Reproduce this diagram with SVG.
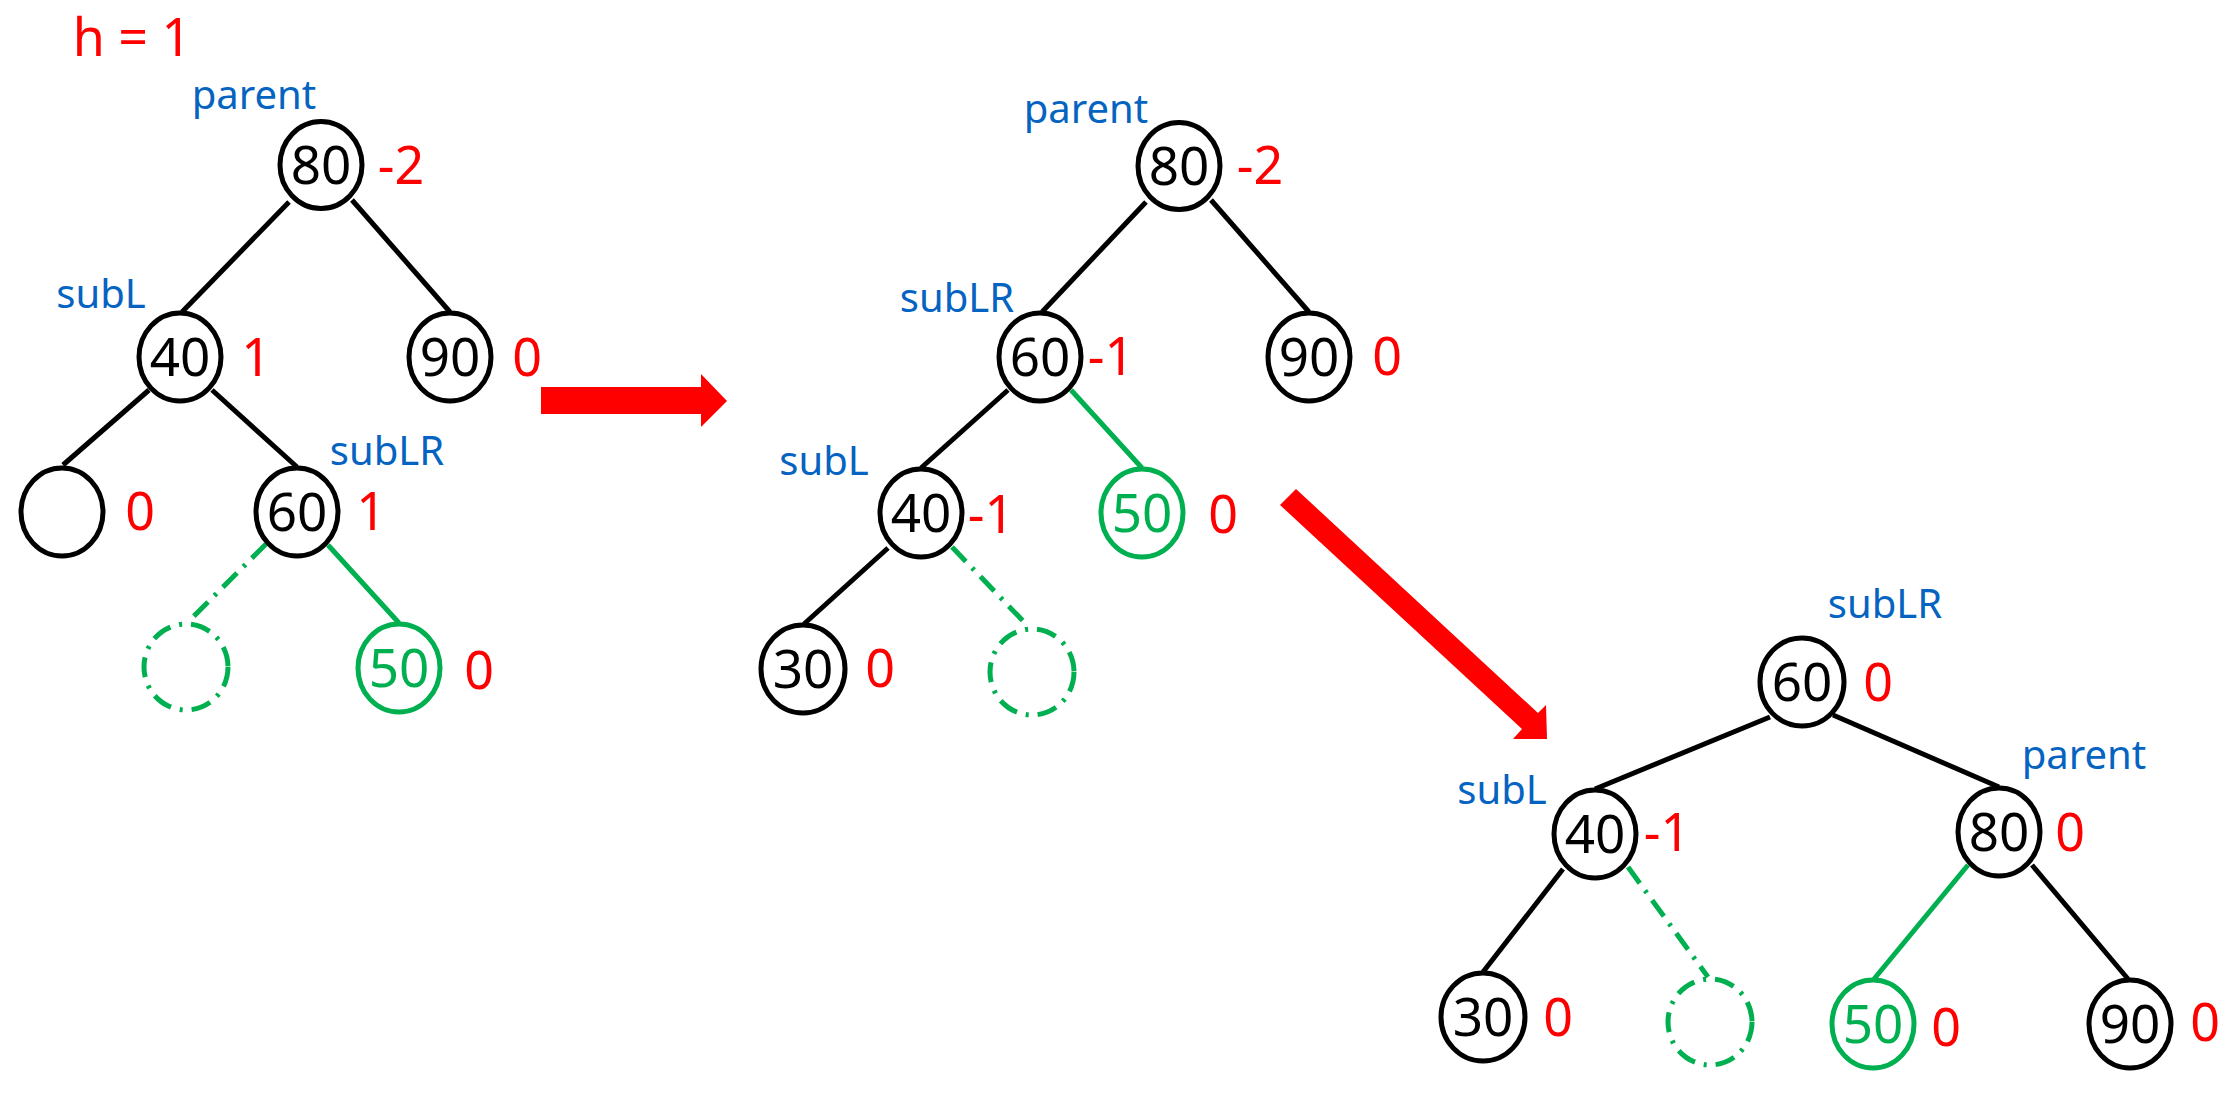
<svg xmlns="http://www.w3.org/2000/svg" width="2240" height="1104" viewBox="0 0 2240 1104">
<style>
text{font-family:"Noto Sans","DejaVu Sans",sans-serif}
.node{fill:#fff;stroke:#000;stroke-width:5}
.gnode{fill:#fff;stroke:#00B050;stroke-width:5}
.dnode{fill:none;stroke:#00B050;stroke-width:5;stroke-dasharray:20 9 3 9}
.val{font-size:53px;fill:#000;text-anchor:middle}
.gval{font-size:53px;fill:#00B050;text-anchor:middle}
.bal{font-size:52px;fill:#FF0000;text-anchor:middle}
.lab{font-size:40px;fill:#0563C1;text-anchor:middle}
.edge{stroke:#000;stroke-width:5;fill:none}
.gedge{stroke:#00B050;stroke-width:5;fill:none}
.dedge{stroke:#00B050;stroke-width:5;fill:none;stroke-dasharray:20 9 3 9}
.arrow{fill:#FF0000}
</style>
<rect width="2240" height="1104" fill="#fff"/>
<text x="132" y="56" font-size="52" fill="#FF0000" text-anchor="middle">h = 1</text>

<g id="connectors">
<line class="edge" x1="289" y1="202" x2="182" y2="312"/>
<line class="edge" x1="352" y1="200" x2="450" y2="312"/>
<line class="edge" x1="149" y1="390" x2="63" y2="465"/>
<line class="edge" x1="212" y1="390" x2="297" y2="467"/>
<line class="dedge" x1="266" y1="544" x2="188" y2="622"/>
<line class="gedge" x1="328" y1="545" x2="399" y2="623"/>

<line class="edge" x1="1146" y1="202" x2="1042" y2="312"/>
<line class="edge" x1="1211" y1="200" x2="1309" y2="312"/>
<line class="edge" x1="1008" y1="390" x2="921" y2="468"/>
<line class="gedge" x1="1071" y1="390" x2="1142" y2="468"/>
<line class="edge" x1="888" y1="548" x2="804" y2="624"/>
<line class="dedge" x1="952" y1="547" x2="1024" y2="622"/>

<line class="edge" x1="1770" y1="717" x2="1595" y2="789"/>
<line class="edge" x1="1833" y1="715" x2="1999" y2="787"/>
<line class="edge" x1="1563" y1="869" x2="1483" y2="972"/>
<line class="dedge" x1="1628" y1="867" x2="1708" y2="977"/>
<line class="gedge" x1="1968" y1="865" x2="1874" y2="979"/>
<line class="edge" x1="2032" y1="865" x2="2128" y2="979"/>

<polygon class="arrow" points="541,387 701,387 701,374 727,401 701,427 701,414 541,414"/>
<polygon class="arrow" points="1280,505 1296,489 1538,713 1546,705 1547,739 1513,739 1522,729"/>
</g>

<!-- Tree 1 -->
<g id="t1-80"><ellipse class="node" cx="321" cy="165" rx="41" ry="43.5"/><text class="val" x="321" y="184">80</text><text class="bal" x="401" y="184">-2</text><text class="lab" x="254" y="109">parent</text></g>
<g id="t1-40"><ellipse class="node" cx="180" cy="357" rx="41" ry="44"/><text class="val" x="180" y="376">40</text><text class="bal" x="256" y="376">1</text><text class="lab" x="101" y="308">subL</text></g>
<g id="t1-90"><ellipse class="node" cx="450" cy="357" rx="41" ry="44"/><text class="val" x="450" y="376">90</text><text class="bal" x="527" y="376">0</text></g>
<g id="t1-empty"><ellipse class="node" cx="62" cy="512" rx="41" ry="44"/><text class="bal" x="140" y="530">0</text></g>
<g id="t1-60"><ellipse class="node" cx="297" cy="512" rx="41" ry="44"/><text class="val" x="297" y="531">60</text><text class="bal" x="371" y="530">1</text><text class="lab" x="387" y="465">subLR</text></g>
<g id="t1-null"><ellipse class="dnode" cx="186" cy="667" rx="42" ry="43"/></g>
<g id="t1-50"><ellipse class="gnode" cx="399" cy="668" rx="41" ry="44"/><text class="gval" x="399" y="687">50</text><text class="bal" x="479" y="689">0</text></g>

<!-- Tree 2 -->
<g id="t2-80"><ellipse class="node" cx="1179" cy="166" rx="41" ry="43.5"/><text class="val" x="1179" y="185">80</text><text class="bal" x="1260" y="184">-2</text><text class="lab" x="1086" y="123">parent</text></g>
<g id="t2-60"><ellipse class="node" cx="1040" cy="357" rx="41" ry="44"/><text class="val" x="1040" y="376">60</text><text class="bal" x="1111" y="375">-1</text><text class="lab" x="957" y="312">subLR</text></g>
<g id="t2-90"><ellipse class="node" cx="1309" cy="357" rx="41" ry="44"/><text class="val" x="1309" y="376">90</text><text class="bal" x="1387" y="375">0</text></g>
<g id="t2-40"><ellipse class="node" cx="921" cy="513" rx="41" ry="44"/><text class="val" x="921" y="532">40</text><text class="bal" x="991" y="533">-1</text><text class="lab" x="824" y="475">subL</text></g>
<g id="t2-50"><ellipse class="gnode" cx="1142" cy="513" rx="41" ry="44"/><text class="gval" x="1142" y="532">50</text><text class="bal" x="1223" y="533">0</text></g>
<g id="t2-30"><ellipse class="node" cx="803" cy="669" rx="42" ry="44"/><text class="val" x="803" y="688">30</text><text class="bal" x="880" y="687">0</text></g>
<g id="t2-null"><ellipse class="dnode" cx="1032" cy="672" rx="42" ry="43"/></g>

<!-- Tree 3 -->
<g id="t3-60"><ellipse class="node" cx="1802" cy="682" rx="42" ry="44"/><text class="val" x="1802" y="701">60</text><text class="bal" x="1878" y="701">0</text><text class="lab" x="1885" y="618">subLR</text></g>
<g id="t3-40"><ellipse class="node" cx="1595" cy="834" rx="41" ry="44"/><text class="val" x="1595" y="853">40</text><text class="bal" x="1667" y="851">-1</text><text class="lab" x="1502" y="804">subL</text></g>
<g id="t3-80"><ellipse class="node" cx="1999" cy="832" rx="41" ry="44"/><text class="val" x="1999" y="851">80</text><text class="bal" x="2070" y="851">0</text><text class="lab" x="2084" y="769">parent</text></g>
<g id="t3-30"><ellipse class="node" cx="1483" cy="1017" rx="42" ry="44"/><text class="val" x="1483" y="1036">30</text><text class="bal" x="1558" y="1036">0</text></g>
<g id="t3-null"><ellipse class="dnode" cx="1710" cy="1022" rx="42" ry="43"/></g>
<g id="t3-50"><ellipse class="gnode" cx="1873" cy="1024" rx="41" ry="44"/><text class="gval" x="1873" y="1043">50</text><text class="bal" x="1946" y="1046">0</text></g>
<g id="t3-90"><ellipse class="node" cx="2130" cy="1024" rx="41" ry="44"/><text class="val" x="2130" y="1043">90</text><text class="bal" x="2205" y="1041">0</text></g>
</svg>
